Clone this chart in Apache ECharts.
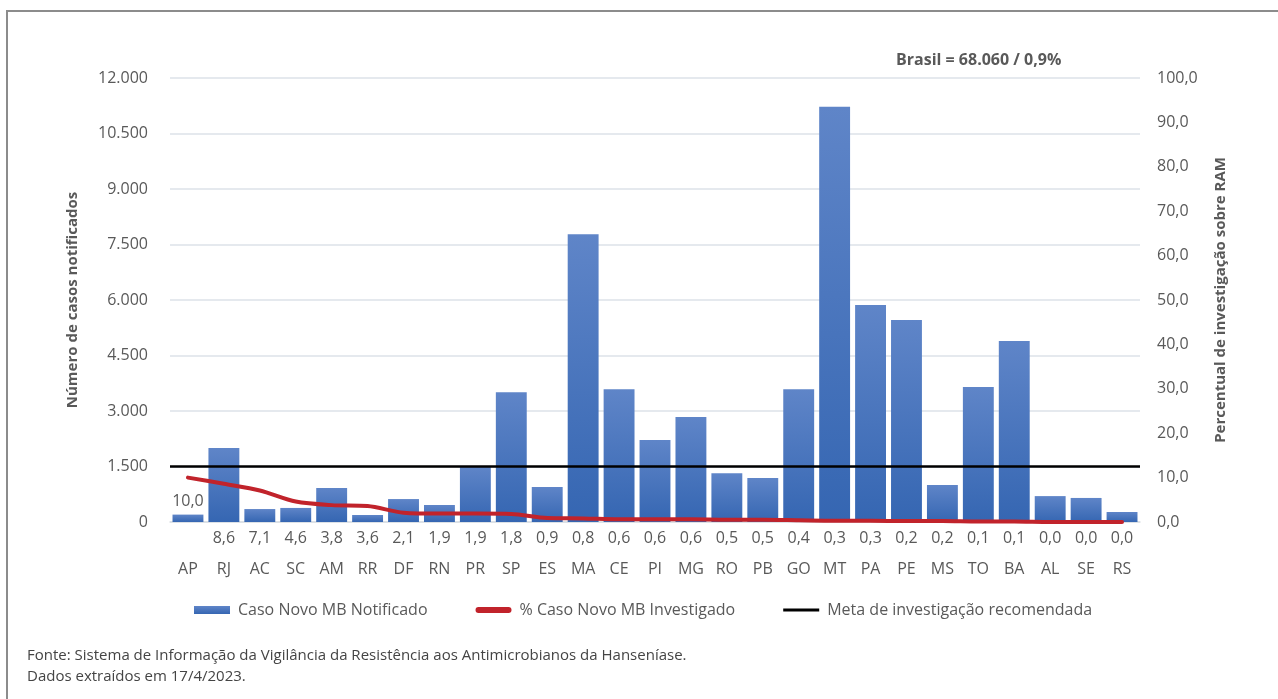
<!DOCTYPE html>
<html lang="pt-BR">
<head>
<meta charset="utf-8">
<title>Casos novos MB notificados e investigados por UF</title>
<script src="https://cdn.jsdelivr.net/npm/echarts@6/dist/echarts.min.js"></script>
<style>
  html, body { margin: 0; padding: 0; background: #fff; }
  #frame { position: absolute; left: 6px; top: 10px; width: 1280px; height: 700px;
           border-left: 2px solid #8c8c8c; border-top: 2px solid #8c8c8c; }
  #main { position: absolute; left: 0; top: 0; width: 1278px; height: 699px; }
</style>
</head>
<body>
<div id="frame"></div>
<div id="main"></div>
<script>
// UFs ordenadas pelo percentual investigado
var states = ['AP','RJ','AC','SC','AM','RR','DF','RN','PR','SP','ES','MA','CE','PI','MG','RO','PB','GO','MT','PA','PE','MS','TO','BA','AL','SE','RS'];
// casos novos MB notificados
var notified = [200, 2000, 350, 380, 920, 190, 620, 460, 1490, 3510, 945, 7780, 3590, 2215, 2840, 1320, 1190, 3590, 11220, 5865, 5460, 1000, 3650, 4890, 700, 650, 270];
// % de casos novos MB investigados
var investigated = [10.0, 8.6, 7.1, 4.6, 3.8, 3.6, 2.1, 1.9, 1.9, 1.8, 0.9, 0.8, 0.6, 0.6, 0.6, 0.5, 0.5, 0.4, 0.3, 0.3, 0.2, 0.2, 0.1, 0.1, 0.0, 0.0, 0.0];
var metaLevel = 1500;

var grey = '#595959';
var font = 'Open Sans';
var fs = 16;

function fmtThousands(v) {
    return String(v).replace(/\B(?=(\d{3})+(?!\d))/g, '.');
}
function fmtPct(v) {
    return Number(v).toFixed(1).replace('.', ',');
}

// only the first point carries its value as a label (the others sit under the axis)
var lineData = investigated.map(function (v, i) {
    if (i === 0) {
        return { value: v, label: { show: true, position: 'bottom', distance: 16,
            color: grey, fontSize: fs, fontFamily: font, formatter: function (p) { return fmtPct(p.value); } } };
    }
    return v;
});

var myChart = echarts.init(document.getElementById('main'));
var option = {
    animation: false,
    textStyle: { fontFamily: font, color: grey },
    title: {
        text: 'Brasil = 68.060 / 0,9%',
        left: 891, top: 47,
        textStyle: { fontSize: 16, fontWeight: 'bold', color: grey, fontFamily: font }
    },
    legend: {
        top: 597, left: 189,
        itemWidth: 36, itemHeight: 8, itemGap: 48,
        textStyle: { fontSize: fs, color: grey, fontFamily: font, padding: [0, 0, 0, 3] },
        data: [
            { name: 'Caso Novo MB Notificado', icon: 'rect' },
            { name: '% Caso Novo MB Investigado', icon: 'path://M3,0L33,0A3,3,0,0,1,33,6L3,6A3,3,0,0,1,3,0Z' },
            { name: 'Meta de investigação recomendada', icon: 'path://M0,0L36,0L36,3L0,3Z' }
        ]
    },
    grid: { left: 170, right: 138, top: 78, bottom: 177 },
    xAxis: {
        type: 'category',
        data: states,
        axisTick: { show: false },
        axisLine: { show: true, lineStyle: { color: '#d9dee4', width: 1.5 } },
        axisLabel: {
            interval: 0, margin: 2,
            formatter: function (value, idx) {
                var p = idx === 0 ? ' ' : fmtPct(investigated[idx]);
                return '{p|' + p + '}\n{s|' + value + '}';
            },
            rich: {
                p: { fontSize: fs, lineHeight: 28, color: grey, fontFamily: font },
                s: { fontSize: fs, lineHeight: 34, color: grey, fontFamily: font }
            }
        }
    },
    yAxis: [
        {
            type: 'value', min: 0, max: 12000, interval: 1500,
            name: 'Número de casos notificados',
            nameLocation: 'middle', nameGap: 90, nameRotate: 90,
            nameTextStyle: { fontSize: 15, fontWeight: 'bold', color: grey, fontFamily: font },
            axisLine: { show: false }, axisTick: { show: false },
            axisLabel: { margin: 22, fontSize: fs, color: grey, fontFamily: font, formatter: fmtThousands },
            splitLine: { lineStyle: { color: '#dde2e8', width: 1.5 } }
        },
        {
            type: 'value', min: 0, max: 100, interval: 10,
            name: 'Percentual de investigação sobre RAM',
            nameLocation: 'middle', nameGap: 73, nameRotate: 90,
            nameTextStyle: { fontSize: 15, fontWeight: 'bold', color: grey, fontFamily: font },
            axisLine: { show: false }, axisTick: { show: false },
            axisLabel: { margin: 17, fontSize: fs, color: grey, fontFamily: font, formatter: fmtPct },
            splitLine: { show: false }
        }
    ],
    series: [
        {
            name: 'Caso Novo MB Notificado',
            type: 'bar',
            data: notified,
            barCategoryGap: '14%',
            itemStyle: {
                color: new echarts.graphic.LinearGradient(0, 0, 0, 1, [
                    { offset: 0, color: '#5f85c8' },
                    { offset: 1, color: '#3566b2' }
                ])
            },
            z: 2
        },
        {
            name: '% Caso Novo MB Investigado',
            type: 'line',
            yAxisIndex: 1,
            data: lineData,
            smooth: 0.3,
            symbol: 'circle',
            symbolSize: 0.1,
            showSymbol: true,
            lineStyle: { color: '#c1232b', width: 4, cap: 'round' },
            itemStyle: { color: '#c1232b' },
            z: 4
        },
        {
            name: 'Meta de investigação recomendada',
            type: 'line',
            data: [],
            symbol: 'none',
            itemStyle: { color: '#000' },
            lineStyle: { color: '#000', width: 2.5 },
            markLine: {
                silent: true,
                symbol: 'none',
                label: { show: false },
                lineStyle: { color: '#000', width: 2.5, type: 'solid' },
                data: [{ yAxis: metaLevel }]
            },
            z: 5
        }
    ],
    graphic: [
        { type: 'text', left: 27, top: 648,
          style: { text: 'Fonte: Sistema de Informação da Vigilância da Resistência aos Antimicrobianos da Hanseníase.',
                   fontSize: 15, fill: '#444', fontFamily: font } },
        { type: 'text', left: 27, top: 669,
          style: { text: 'Dados extraídos em 17/4/2023.', fontSize: 15, fill: '#444', fontFamily: font } }
    ]
};
myChart.setOption(option);
</script>
</body>
</html>
